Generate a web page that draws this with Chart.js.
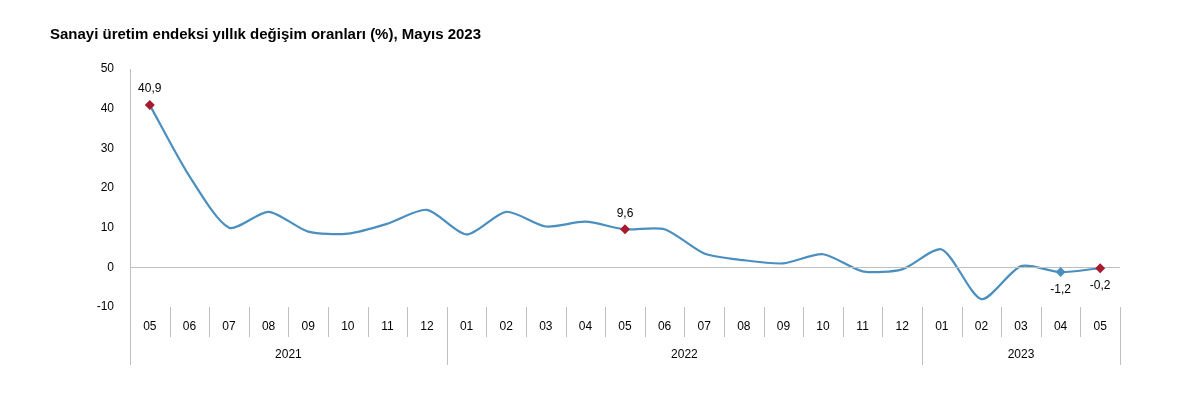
<!DOCTYPE html>
<html><head><meta charset="utf-8">
<script src="https://cdn.jsdelivr.net/npm/chart.js@4"></script>
<style>html,body{margin:0;padding:0;background:#fff}#w{width:1200px;height:418px}</style>
</head><body><div id="w"><canvas id="c" width="1200" height="418"></canvas></div>
<script>
const months = ['05','06','07','08','09','10','11','12','01','02','03','04','05','06','07','08','09','10','11','12','01','02','03','04','05'];
const years = [{label:'2021',from:0,to:7},{label:'2022',from:8,to:19},{label:'2023',from:20,to:24}];
const values = [40.9,23,10,14,9,8.5,11,14.5,8.3,14,10.3,11.5,9.6,9.6,3.5,1.8,1,3.3,-1,-0.5,4.5,-8,0.3,-1.2,-0.2];
const yTicks = [-10,0,10,20,30,40,50];
const marked = {0:'#a6192e',12:'#a6192e',23:'#4a8fc0',24:'#a6192e'};
const labels = {0:['40,9',0,-16],12:['9,6',0,-16],23:['-1,2',0,18],24:['-0,2',0,18]};

const deco = {
  id:'deco',
  afterDraw(ch){
    const ctx=ch.ctx, x=ch.scales.x, y=ch.scales.y, a=ch.chartArea;
    const step = x.getPixelForValue(1)-x.getPixelForValue(0);
    ctx.save();
    ctx.strokeStyle='#bfbfbf';ctx.lineWidth=1;
    ctx.beginPath();ctx.moveTo(a.left,Math.round(y.getPixelForValue(0))+0.5);ctx.lineTo(a.right,Math.round(y.getPixelForValue(0))+0.5);ctx.stroke();
    ctx.beginPath();ctx.moveTo(a.left+0.5,a.top);ctx.lineTo(a.left+0.5,a.bottom+58);ctx.stroke();
    ctx.font='12px "Liberation Sans", Arial';ctx.fillStyle='#000';ctx.textAlign='center';ctx.textBaseline='middle';
    months.forEach((m,i)=>{
      const px=x.getPixelForValue(i);
      ctx.fillText(m,px,a.bottom+20);
      const r=Math.round(px+step/2)+0.5;
      ctx.beginPath();ctx.moveTo(r,a.bottom);ctx.lineTo(r,a.bottom+30);ctx.stroke();
    });
    years.forEach(yy=>{
      const l=x.getPixelForValue(yy.from)-step/2, r=x.getPixelForValue(yy.to)+step/2;
      ctx.fillText(yy.label,(l+r)/2,a.bottom+48);
      ctx.beginPath();ctx.moveTo(Math.round(r)+0.5,a.bottom);ctx.lineTo(Math.round(r)+0.5,a.bottom+58);ctx.stroke();
    });
    Object.keys(labels).forEach(k=>{
      const [t,dx,dy]=labels[k];
      ctx.fillText(t,x.getPixelForValue(+k)+dx,y.getPixelForValue(values[k])+dy);
    });
    Object.keys(marked).forEach(k=>{
      const px=x.getPixelForValue(+k),py=y.getPixelForValue(values[k]);
      ctx.fillStyle=marked[k];ctx.beginPath();
      ctx.moveTo(px,py-5);ctx.lineTo(px+5,py);ctx.lineTo(px,py+5);ctx.lineTo(px-5,py);ctx.closePath();ctx.fill();
    });
    ctx.restore();
  }
};

new Chart(document.getElementById('c'),{
  type:'line',
  data:{labels:months.map((m,i)=>i),datasets:[{data:values,borderColor:'#4a8fc0',borderWidth:2.2,pointRadius:0,tension:0.25}]},
  options:{
    responsive:false,animation:false,
    layout:{padding:{left:50,right:80,top:0,bottom:0}},
    plugins:{legend:{display:false},tooltip:{enabled:false},
      title:{display:true,text:'Sanayi üretim endeksi yıllık değişim oranları (%), Mayıs 2023',align:'start',
        font:{family:'"Liberation Sans", Arial',size:15,weight:'bold'},color:'#000',padding:{top:26,bottom:25}}},
    scales:{
      x:{type:'category',offset:true,grid:{display:false},border:{display:false},ticks:{display:false},afterFit(s){s.height=111;}},
      y:{min:-10,max:50,afterBuildTicks(s){s.ticks=yTicks.map(v=>({value:v}));},
        afterFit(s){s.width=80;},
        grid:{display:false},border:{display:false},
        ticks:{font:{family:'"Liberation Sans", Arial',size:12},color:'#000',padding:8}}
    }
  },
  plugins:[deco]
});
</script></body></html>
